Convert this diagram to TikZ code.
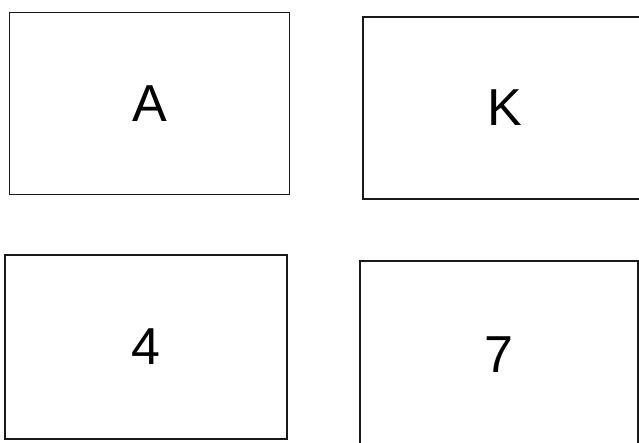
\documentclass[tikz,border=0pt]{standalone}
\usepackage{fontspec}
\setmainfont{Liberation Sans}
\usetikzlibrary{positioning}

\begin{document}
\begin{tikzpicture}[
    x=1pt,
    y=-1pt,
    card/.style={
        rectangle,
        draw=black!90,
        line width=1.1pt,
        align=center,
        minimum width=280pt,
        minimum height=182pt,
        inner sep=0pt,
        font=\fontsize{52}{60}\selectfont
    }
]

% =========================================================
% Page frame
% =========================================================
\useasboundingbox (0,0) rectangle (639,442);

% =========================================================
% Top row of cards
% =========================================================
\node[card] (cardA) at (149.5,103.5) {A};

\node[card, minimum width=284pt] (cardK) at (505.0,108.0) {K};

% =========================================================
% Bottom row of cards
% =========================================================
\node[card, minimum width=282pt, minimum height=184pt] (cardfour) at (146.0,347.0) {4};

\node[card, minimum width=278pt, minimum height=188pt] (cardseven) at (499.0,355.0) {7};

\end{tikzpicture}
\end{document}
